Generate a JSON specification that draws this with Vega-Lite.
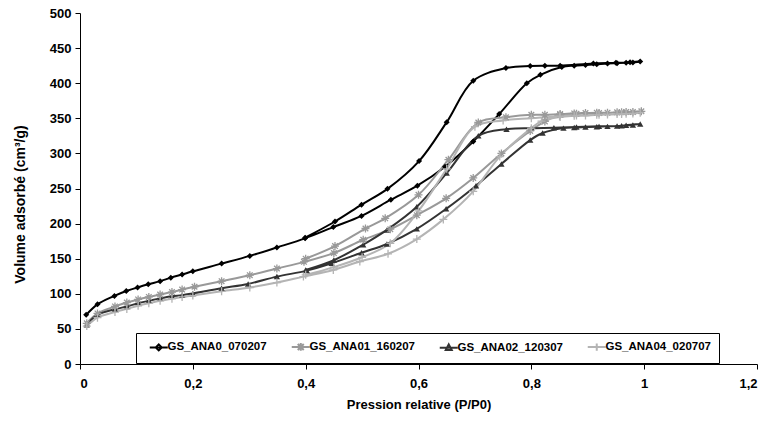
{
  "$schema": "https://vega.github.io/schema/vega-lite/v6.json",
  "width": 677,
  "height": 351,
  "autosize": {"type": "none"},
  "padding": {"left": 80, "top": 13, "right": 11, "bottom": 59},
  "background": "#ffffff",
  "config": {
    "view": {"stroke": null},
    "font": "Liberation Sans",
    "axis": {
      "grid": false,
      "domainColor": "#000000",
      "tickColor": "#000000",
      "tickSize": 5,
      "labelFont": "Liberation Sans",
      "labelFontWeight": "bold",
      "labelFontSize": 13,
      "labelColor": "#000000",
      "titleFont": "Liberation Sans",
      "titleFontWeight": "bold",
      "titleFontSize": 13,
      "titleColor": "#000000"
    }
  },
  "data": {
    "values": [
      {"series": "GS_ANA0_070207", "i": 1, "x": 0.011, "y": 70},
      {"series": "GS_ANA0_070207", "i": 2, "x": 0.031, "y": 85},
      {"series": "GS_ANA0_070207", "i": 3, "x": 0.061, "y": 97},
      {"series": "GS_ANA0_070207", "i": 4, "x": 0.082, "y": 104},
      {"series": "GS_ANA0_070207", "i": 5, "x": 0.102, "y": 109},
      {"series": "GS_ANA0_070207", "i": 6, "x": 0.121, "y": 113.5},
      {"series": "GS_ANA0_070207", "i": 7, "x": 0.142, "y": 118},
      {"series": "GS_ANA0_070207", "i": 8, "x": 0.161, "y": 123},
      {"series": "GS_ANA0_070207", "i": 9, "x": 0.181, "y": 127.5},
      {"series": "GS_ANA0_070207", "i": 10, "x": 0.2, "y": 132},
      {"series": "GS_ANA0_070207", "i": 11, "x": 0.251, "y": 143},
      {"series": "GS_ANA0_070207", "i": 12, "x": 0.301, "y": 154},
      {"series": "GS_ANA0_070207", "i": 13, "x": 0.349, "y": 166},
      {"series": "GS_ANA0_070207", "i": 14, "x": 0.399, "y": 179},
      {"series": "GS_ANA0_070207", "i": 15, "x": 0.449, "y": 195},
      {"series": "GS_ANA0_070207", "i": 16, "x": 0.499, "y": 211},
      {"series": "GS_ANA0_070207", "i": 17, "x": 0.551, "y": 234},
      {"series": "GS_ANA0_070207", "i": 18, "x": 0.598, "y": 254},
      {"series": "GS_ANA0_070207", "i": 19, "x": 0.647, "y": 281},
      {"series": "GS_ANA0_070207", "i": 20, "x": 0.697, "y": 317},
      {"series": "GS_ANA0_070207", "i": 21, "x": 0.743, "y": 356},
      {"series": "GS_ANA0_070207", "i": 22, "x": 0.792, "y": 400},
      {"series": "GS_ANA0_070207", "i": 23, "x": 0.816, "y": 412},
      {"series": "GS_ANA0_070207", "i": 24, "x": 0.854, "y": 423},
      {"series": "GS_ANA0_070207", "i": 25, "x": 0.876, "y": 425},
      {"series": "GS_ANA0_070207", "i": 26, "x": 0.896, "y": 426},
      {"series": "GS_ANA0_070207", "i": 27, "x": 0.916, "y": 427},
      {"series": "GS_ANA0_070207", "i": 28, "x": 0.935, "y": 428},
      {"series": "GS_ANA0_070207", "i": 29, "x": 0.952, "y": 428.5},
      {"series": "GS_ANA0_070207", "i": 30, "x": 0.968, "y": 429},
      {"series": "GS_ANA0_070207", "i": 31, "x": 0.98, "y": 429.5},
      {"series": "GS_ANA0_070207", "i": 32, "x": 0.993, "y": 431},
      {"series": "GS_ANA0_070207", "i": 33, "x": 0.975, "y": 430},
      {"series": "GS_ANA0_070207", "i": 34, "x": 0.95, "y": 429},
      {"series": "GS_ANA0_070207", "i": 35, "x": 0.91, "y": 428},
      {"series": "GS_ANA0_070207", "i": 36, "x": 0.851, "y": 425},
      {"series": "GS_ANA0_070207", "i": 37, "x": 0.824, "y": 425},
      {"series": "GS_ANA0_070207", "i": 38, "x": 0.798, "y": 424.5},
      {"series": "GS_ANA0_070207", "i": 39, "x": 0.755, "y": 421.5},
      {"series": "GS_ANA0_070207", "i": 40, "x": 0.697, "y": 403.5},
      {"series": "GS_ANA0_070207", "i": 41, "x": 0.65, "y": 344.5},
      {"series": "GS_ANA0_070207", "i": 42, "x": 0.601, "y": 289},
      {"series": "GS_ANA0_070207", "i": 43, "x": 0.545, "y": 249.5},
      {"series": "GS_ANA0_070207", "i": 44, "x": 0.499, "y": 227},
      {"series": "GS_ANA0_070207", "i": 45, "x": 0.452, "y": 203},
      {"series": "GS_ANA0_070207", "i": 46, "x": 0.399, "y": 180},

      {"series": "GS_ANA01_160207", "i": 1, "x": 0.012, "y": 58},
      {"series": "GS_ANA01_160207", "i": 2, "x": 0.031, "y": 72},
      {"series": "GS_ANA01_160207", "i": 3, "x": 0.062, "y": 82},
      {"series": "GS_ANA01_160207", "i": 4, "x": 0.083, "y": 87.5},
      {"series": "GS_ANA01_160207", "i": 5, "x": 0.103, "y": 92},
      {"series": "GS_ANA01_160207", "i": 6, "x": 0.122, "y": 95.5},
      {"series": "GS_ANA01_160207", "i": 7, "x": 0.142, "y": 99},
      {"series": "GS_ANA01_160207", "i": 8, "x": 0.163, "y": 102.5},
      {"series": "GS_ANA01_160207", "i": 9, "x": 0.181, "y": 106},
      {"series": "GS_ANA01_160207", "i": 10, "x": 0.203, "y": 110},
      {"series": "GS_ANA01_160207", "i": 11, "x": 0.251, "y": 118},
      {"series": "GS_ANA01_160207", "i": 12, "x": 0.301, "y": 126.5},
      {"series": "GS_ANA01_160207", "i": 13, "x": 0.349, "y": 136},
      {"series": "GS_ANA01_160207", "i": 14, "x": 0.397, "y": 145.5},
      {"series": "GS_ANA01_160207", "i": 15, "x": 0.45, "y": 158},
      {"series": "GS_ANA01_160207", "i": 16, "x": 0.502, "y": 177},
      {"series": "GS_ANA01_160207", "i": 17, "x": 0.55, "y": 192},
      {"series": "GS_ANA01_160207", "i": 18, "x": 0.597, "y": 212},
      {"series": "GS_ANA01_160207", "i": 19, "x": 0.649, "y": 236},
      {"series": "GS_ANA01_160207", "i": 20, "x": 0.697, "y": 265},
      {"series": "GS_ANA01_160207", "i": 21, "x": 0.747, "y": 300},
      {"series": "GS_ANA01_160207", "i": 22, "x": 0.798, "y": 332},
      {"series": "GS_ANA01_160207", "i": 23, "x": 0.824, "y": 345.5},
      {"series": "GS_ANA01_160207", "i": 24, "x": 0.851, "y": 355},
      {"series": "GS_ANA01_160207", "i": 25, "x": 0.876, "y": 357},
      {"series": "GS_ANA01_160207", "i": 26, "x": 0.896, "y": 357.5},
      {"series": "GS_ANA01_160207", "i": 27, "x": 0.916, "y": 358},
      {"series": "GS_ANA01_160207", "i": 28, "x": 0.935, "y": 358},
      {"series": "GS_ANA01_160207", "i": 29, "x": 0.952, "y": 358.5},
      {"series": "GS_ANA01_160207", "i": 30, "x": 0.968, "y": 359},
      {"series": "GS_ANA01_160207", "i": 31, "x": 0.98, "y": 359},
      {"series": "GS_ANA01_160207", "i": 32, "x": 0.995, "y": 360},
      {"series": "GS_ANA01_160207", "i": 33, "x": 0.96, "y": 358.5},
      {"series": "GS_ANA01_160207", "i": 34, "x": 0.92, "y": 357.5},
      {"series": "GS_ANA01_160207", "i": 35, "x": 0.88, "y": 356.5},
      {"series": "GS_ANA01_160207", "i": 36, "x": 0.851, "y": 356},
      {"series": "GS_ANA01_160207", "i": 37, "x": 0.824, "y": 355},
      {"series": "GS_ANA01_160207", "i": 38, "x": 0.8, "y": 355},
      {"series": "GS_ANA01_160207", "i": 39, "x": 0.755, "y": 351.5},
      {"series": "GS_ANA01_160207", "i": 40, "x": 0.706, "y": 344},
      {"series": "GS_ANA01_160207", "i": 41, "x": 0.653, "y": 291},
      {"series": "GS_ANA01_160207", "i": 42, "x": 0.6, "y": 241},
      {"series": "GS_ANA01_160207", "i": 43, "x": 0.541, "y": 207.5},
      {"series": "GS_ANA01_160207", "i": 44, "x": 0.506, "y": 193},
      {"series": "GS_ANA01_160207", "i": 45, "x": 0.452, "y": 168},
      {"series": "GS_ANA01_160207", "i": 46, "x": 0.4, "y": 150},

      {"series": "GS_ANA02_120307", "i": 1, "x": 0.012, "y": 56},
      {"series": "GS_ANA02_120307", "i": 2, "x": 0.031, "y": 70},
      {"series": "GS_ANA02_120307", "i": 3, "x": 0.062, "y": 78},
      {"series": "GS_ANA02_120307", "i": 4, "x": 0.083, "y": 82},
      {"series": "GS_ANA02_120307", "i": 5, "x": 0.103, "y": 86.5},
      {"series": "GS_ANA02_120307", "i": 6, "x": 0.122, "y": 90},
      {"series": "GS_ANA02_120307", "i": 7, "x": 0.142, "y": 93.5},
      {"series": "GS_ANA02_120307", "i": 8, "x": 0.163, "y": 96.5},
      {"series": "GS_ANA02_120307", "i": 9, "x": 0.181, "y": 98},
      {"series": "GS_ANA02_120307", "i": 10, "x": 0.2, "y": 100.5},
      {"series": "GS_ANA02_120307", "i": 11, "x": 0.251, "y": 108},
      {"series": "GS_ANA02_120307", "i": 12, "x": 0.298, "y": 114},
      {"series": "GS_ANA02_120307", "i": 13, "x": 0.349, "y": 124.5},
      {"series": "GS_ANA02_120307", "i": 14, "x": 0.402, "y": 133},
      {"series": "GS_ANA02_120307", "i": 15, "x": 0.446, "y": 143.5},
      {"series": "GS_ANA02_120307", "i": 16, "x": 0.499, "y": 158.5},
      {"series": "GS_ANA02_120307", "i": 17, "x": 0.544, "y": 171},
      {"series": "GS_ANA02_120307", "i": 18, "x": 0.597, "y": 192.5},
      {"series": "GS_ANA02_120307", "i": 19, "x": 0.649, "y": 221},
      {"series": "GS_ANA02_120307", "i": 20, "x": 0.702, "y": 254},
      {"series": "GS_ANA02_120307", "i": 21, "x": 0.747, "y": 285},
      {"series": "GS_ANA02_120307", "i": 22, "x": 0.798, "y": 319},
      {"series": "GS_ANA02_120307", "i": 23, "x": 0.82, "y": 329},
      {"series": "GS_ANA02_120307", "i": 24, "x": 0.857, "y": 336},
      {"series": "GS_ANA02_120307", "i": 25, "x": 0.876, "y": 337},
      {"series": "GS_ANA02_120307", "i": 26, "x": 0.896, "y": 337.5},
      {"series": "GS_ANA02_120307", "i": 27, "x": 0.916, "y": 338},
      {"series": "GS_ANA02_120307", "i": 28, "x": 0.935, "y": 338.5},
      {"series": "GS_ANA02_120307", "i": 29, "x": 0.952, "y": 339},
      {"series": "GS_ANA02_120307", "i": 30, "x": 0.968, "y": 340},
      {"series": "GS_ANA02_120307", "i": 31, "x": 0.98, "y": 340.5},
      {"series": "GS_ANA02_120307", "i": 32, "x": 0.993, "y": 342},
      {"series": "GS_ANA02_120307", "i": 33, "x": 0.96, "y": 339.5},
      {"series": "GS_ANA02_120307", "i": 34, "x": 0.92, "y": 338.5},
      {"series": "GS_ANA02_120307", "i": 35, "x": 0.88, "y": 337.5},
      {"series": "GS_ANA02_120307", "i": 36, "x": 0.84, "y": 336.5},
      {"series": "GS_ANA02_120307", "i": 37, "x": 0.8, "y": 336},
      {"series": "GS_ANA02_120307", "i": 38, "x": 0.756, "y": 334.5},
      {"series": "GS_ANA02_120307", "i": 39, "x": 0.706, "y": 325},
      {"series": "GS_ANA02_120307", "i": 40, "x": 0.65, "y": 272},
      {"series": "GS_ANA02_120307", "i": 41, "x": 0.597, "y": 224},
      {"series": "GS_ANA02_120307", "i": 42, "x": 0.544, "y": 191},
      {"series": "GS_ANA02_120307", "i": 43, "x": 0.502, "y": 170},
      {"series": "GS_ANA02_120307", "i": 44, "x": 0.45, "y": 148},
      {"series": "GS_ANA02_120307", "i": 45, "x": 0.4, "y": 134},

      {"series": "GS_ANA04_020707", "i": 1, "x": 0.012, "y": 54},
      {"series": "GS_ANA04_020707", "i": 2, "x": 0.031, "y": 66},
      {"series": "GS_ANA04_020707", "i": 3, "x": 0.062, "y": 74},
      {"series": "GS_ANA04_020707", "i": 4, "x": 0.083, "y": 78.5},
      {"series": "GS_ANA04_020707", "i": 5, "x": 0.103, "y": 83},
      {"series": "GS_ANA04_020707", "i": 6, "x": 0.122, "y": 86.5},
      {"series": "GS_ANA04_020707", "i": 7, "x": 0.142, "y": 90},
      {"series": "GS_ANA04_020707", "i": 8, "x": 0.163, "y": 93},
      {"series": "GS_ANA04_020707", "i": 9, "x": 0.181, "y": 95.5},
      {"series": "GS_ANA04_020707", "i": 10, "x": 0.2, "y": 97.5},
      {"series": "GS_ANA04_020707", "i": 11, "x": 0.251, "y": 103.5},
      {"series": "GS_ANA04_020707", "i": 12, "x": 0.301, "y": 109},
      {"series": "GS_ANA04_020707", "i": 13, "x": 0.349, "y": 116},
      {"series": "GS_ANA04_020707", "i": 14, "x": 0.396, "y": 124.5},
      {"series": "GS_ANA04_020707", "i": 15, "x": 0.449, "y": 134},
      {"series": "GS_ANA04_020707", "i": 16, "x": 0.496, "y": 146},
      {"series": "GS_ANA04_020707", "i": 17, "x": 0.546, "y": 157},
      {"series": "GS_ANA04_020707", "i": 18, "x": 0.597, "y": 178},
      {"series": "GS_ANA04_020707", "i": 19, "x": 0.644, "y": 206},
      {"series": "GS_ANA04_020707", "i": 20, "x": 0.697, "y": 246},
      {"series": "GS_ANA04_020707", "i": 21, "x": 0.744, "y": 295.5},
      {"series": "GS_ANA04_020707", "i": 22, "x": 0.8, "y": 336},
      {"series": "GS_ANA04_020707", "i": 23, "x": 0.818, "y": 346},
      {"series": "GS_ANA04_020707", "i": 24, "x": 0.851, "y": 352},
      {"series": "GS_ANA04_020707", "i": 25, "x": 0.876, "y": 353.5},
      {"series": "GS_ANA04_020707", "i": 26, "x": 0.896, "y": 354},
      {"series": "GS_ANA04_020707", "i": 27, "x": 0.916, "y": 355},
      {"series": "GS_ANA04_020707", "i": 28, "x": 0.935, "y": 355.5},
      {"series": "GS_ANA04_020707", "i": 29, "x": 0.952, "y": 356},
      {"series": "GS_ANA04_020707", "i": 30, "x": 0.968, "y": 356.5},
      {"series": "GS_ANA04_020707", "i": 31, "x": 0.98, "y": 357},
      {"series": "GS_ANA04_020707", "i": 32, "x": 0.993, "y": 358},
      {"series": "GS_ANA04_020707", "i": 33, "x": 0.96, "y": 356},
      {"series": "GS_ANA04_020707", "i": 34, "x": 0.92, "y": 355},
      {"series": "GS_ANA04_020707", "i": 35, "x": 0.88, "y": 354},
      {"series": "GS_ANA04_020707", "i": 36, "x": 0.85, "y": 353},
      {"series": "GS_ANA04_020707", "i": 37, "x": 0.8, "y": 350},
      {"series": "GS_ANA04_020707", "i": 38, "x": 0.75, "y": 347},
      {"series": "GS_ANA04_020707", "i": 39, "x": 0.7, "y": 338},
      {"series": "GS_ANA04_020707", "i": 40, "x": 0.65, "y": 278},
      {"series": "GS_ANA04_020707", "i": 41, "x": 0.6, "y": 218},
      {"series": "GS_ANA04_020707", "i": 42, "x": 0.55, "y": 172},
      {"series": "GS_ANA04_020707", "i": 43, "x": 0.5, "y": 152},
      {"series": "GS_ANA04_020707", "i": 44, "x": 0.45, "y": 138},
      {"series": "GS_ANA04_020707", "i": 45, "x": 0.4, "y": 127}
    ]
  },
  "encoding": {
    "x": {
      "field": "x", "type": "quantitative",
      "scale": {"domain": [0, 1.2], "nice": false},
      "axis": {
        "title": "Pression relative (P/P0)",
        "values": [0, 0.2, 0.4, 0.6, 0.8, 1, 1.2],
        "labelExpr": "replace(format(datum.value, '.1~f'), '.', ',')",
        "labelPadding": 8,
        "titlePadding": 8
      }
    },
    "y": {
      "field": "y", "type": "quantitative",
      "scale": {"domain": [0, 500], "nice": false},
      "axis": {
        "title": "Volume adsorbé (cm³/g)",
        "values": [0, 50, 100, 150, 200, 250, 300, 350, 400, 450, 500],
        "labelPadding": 4,
        "titlePadding": 22,
        "titleFontSize": 14,
        "titleY": 191
      }
    }
  },
  "layer": [
    {
      "transform": [{"filter": "datum.i < 0"}],
      "mark": {"type": "point", "filled": false, "opacity": 1, "size": 36},
      "encoding": {
        "color": {
          "field": "series", "type": "nominal",
          "scale": {
            "domain": ["GS_ANA0_070207", "GS_ANA01_160207", "GS_ANA02_120307", "GS_ANA04_020707"],
            "range": ["#000000", "#999999", "#333333", "#b4b4b4"]
          },
          "legend": {
            "title": null,
            "orient": "none",
            "legendX": 56,
            "legendY": 320,
            "direction": "horizontal",
            "columns": 4,
            "strokeColor": "#000000",
            "fillColor": "#ffffff",
            "padding": 8,
            "labelFont": "Liberation Sans",
            "labelFontWeight": "bold",
            "labelFontSize": 11.5,
            "labelColor": "#000000",
            "symbolSize": 36,
            "symbolStrokeWidth": 2,
            "symbolOpacity": 1,
            "symbolOffset": 9,
            "labelOffset": 3,
            "columnPadding": 19
          }
        },
        "shape": {
          "field": "series", "type": "nominal",
          "scale": {
            "domain": ["GS_ANA0_070207", "GS_ANA01_160207", "GS_ANA02_120307", "GS_ANA04_020707"],
            "range": ["M-3,0L3,0M0,-1L1,0L0,1L-1,0Z", "M-3,0L3,0M-1,-1L1,1M-1,1L1,-1M0,-1.3L0,1.3", "M-3,0L3,0M0,-1.1L1,0.8L-1,0.8Z", "M-3,0L3,0M0,-1.2L0,1.2"]
          },
          "legend": {
            "title": null,
            "orient": "none",
            "legendX": 56,
            "legendY": 320,
            "direction": "horizontal",
            "columns": 4,
            "strokeColor": "#000000",
            "fillColor": "#ffffff",
            "padding": 8,
            "labelFont": "Liberation Sans",
            "labelFontWeight": "bold",
            "labelFontSize": 11.5,
            "labelColor": "#000000",
            "symbolSize": 36,
            "symbolStrokeWidth": 2,
            "symbolOpacity": 1,
            "symbolOffset": 9,
            "labelOffset": 3,
            "columnPadding": 19
          }
        }
      }
    },
    {
      "mark": {"type": "line", "interpolate": "catmull-rom", "strokeWidth": 2},
      "encoding": {
        "order": {"field": "i", "type": "quantitative"},
        "color": {
          "field": "series", "type": "nominal",
          "scale": {
            "domain": ["GS_ANA0_070207", "GS_ANA01_160207", "GS_ANA02_120307", "GS_ANA04_020707"],
            "range": ["#000000", "#999999", "#333333", "#b4b4b4"]
          }
        }
      }
    },
    {
      "transform": [{"filter": "datum.series === 'GS_ANA0_070207'"}],
      "mark": {"type": "point", "shape": "diamond", "filled": true, "color": "#000000", "size": 36, "opacity": 1},
      "encoding": {}
    },
    {
      "transform": [{"filter": "datum.series === 'GS_ANA02_120307'"}],
      "mark": {"type": "point", "shape": "triangle-up", "filled": true, "color": "#333333", "size": 40, "opacity": 1},
      "encoding": {}
    },
    {
      "transform": [{"filter": "datum.series === 'GS_ANA01_160207'"}],
      "mark": {"type": "point", "shape": "M-1,0L1,0M0,-1L0,1M-0.7,-0.7L0.7,0.7M-0.7,0.7L0.7,-0.7", "filled": false, "color": "#999999", "size": 64, "strokeWidth": 1.3, "opacity": 1},
      "encoding": {}
    },
    {
      "transform": [{"filter": "datum.series === 'GS_ANA04_020707'"}],
      "mark": {"type": "point", "shape": "M0,-1L0,1M-1,0L1,0", "filled": false, "color": "#b4b4b4", "size": 64, "strokeWidth": 1.3, "opacity": 1},
      "encoding": {}
    }
  ]
}
